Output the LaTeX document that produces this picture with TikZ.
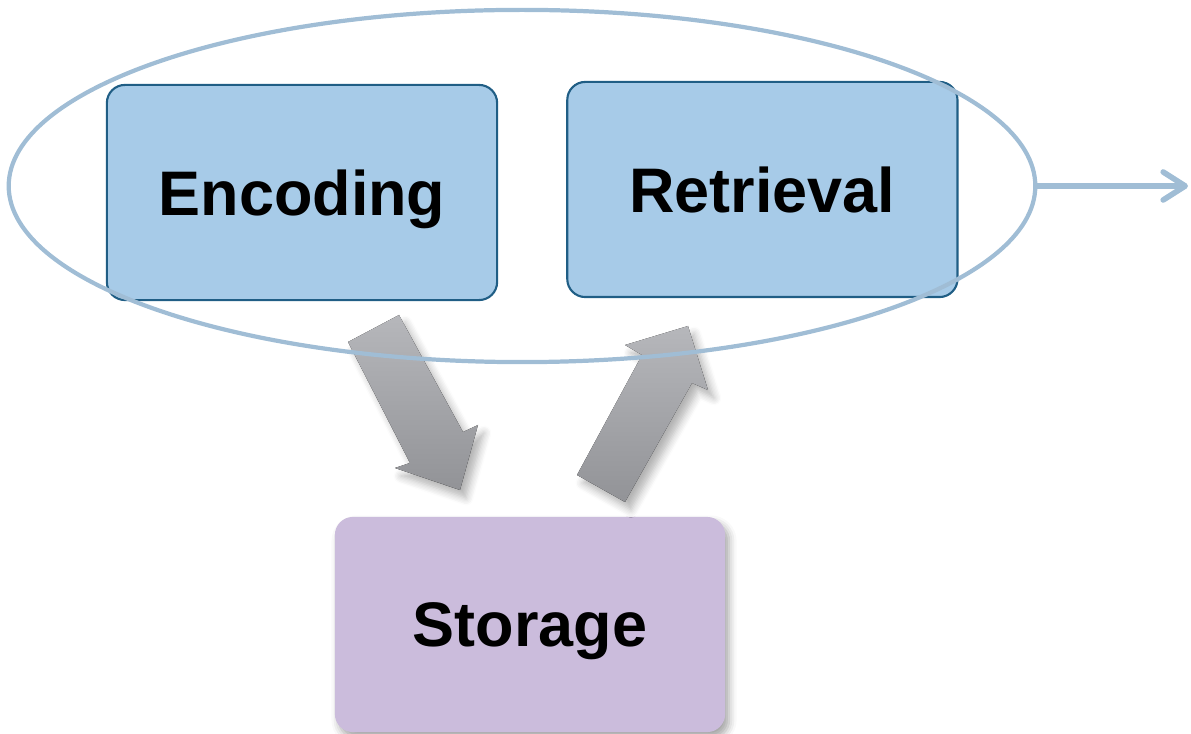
\documentclass[tikz,border=0pt]{standalone}
\usepackage{fontspec}
\setmainfont{Liberation Sans}
\usetikzlibrary{positioning, arrows.meta, shapes.geometric, shadows.blur}
\definecolor{boxblue}{HTML}{A7CBE8}
\definecolor{boxedge}{HTML}{205E85}
\definecolor{boxlilac}{HTML}{CBBCDC}
\definecolor{ringblue}{HTML}{A0BDD5}
\definecolor{greytop}{HTML}{B6B7BB}
\definecolor{greybot}{HTML}{929397}
\tikzset{stage node/.style={rectangle, rounded corners=0.18cm, minimum width=3.9cm, minimum height=2.15cm, inner sep=0pt, text depth=0pt, font=\fontsize{17.9}{21}\selectfont\bfseries},
	block arrow/.style={top color=greytop, bottom color=greybot, draw=none, blur shadow={shadow xshift=0.6mm, shadow yshift=-0.8mm, shadow blur steps=6, shadow opacity=30}},}

\begin{document}
\begin{tikzpicture}[x=0.01cm, y=-0.01cm]
			\useasboundingbox (0,0) rectangle (1191,734);
			% Boxes
			\node[stage node, fill=boxblue, draw=boxedge, line width=0.6pt] (enc) at (302,192.5) {Encoding};
			\node[stage node, fill=boxblue, draw=boxedge, line width=0.6pt] [right = 0.68cm of enc, yshift=0.03cm] (ret) {Retrieval};
			\node[stage node, fill=boxlilac, blur shadow={shadow xshift=0.4mm, shadow yshift=-0.6mm, shadow opacity=35}] (sto) at (530,624.5) {Storage};
			% Block arrows
			\fill[block arrow] (348,342) -- (399,315) -- (463,432) -- (478,425) -- (460,490) -- (395,468) -- (410,463) -- cycle;
			\fill[block arrow] (577,475) -- (642,355) -- (625,345) -- (688,326) -- (708,390) -- (692,383) -- (625,502) -- cycle;
			% Ring and exit
			\node[ellipse, draw=ringblue, line width=1.2pt, minimum width=10.26cm, minimum height=3.52cm, inner sep=0pt] (ring) at (522,186) {};
			\coordinate (out) at (1188,186);
			\draw[ringblue, line width=1.6pt, -{Straight Barb[length=2.2mm, width=2.8mm, round]}] (ring.east) -- (out);
		\end{tikzpicture}
\end{document}
